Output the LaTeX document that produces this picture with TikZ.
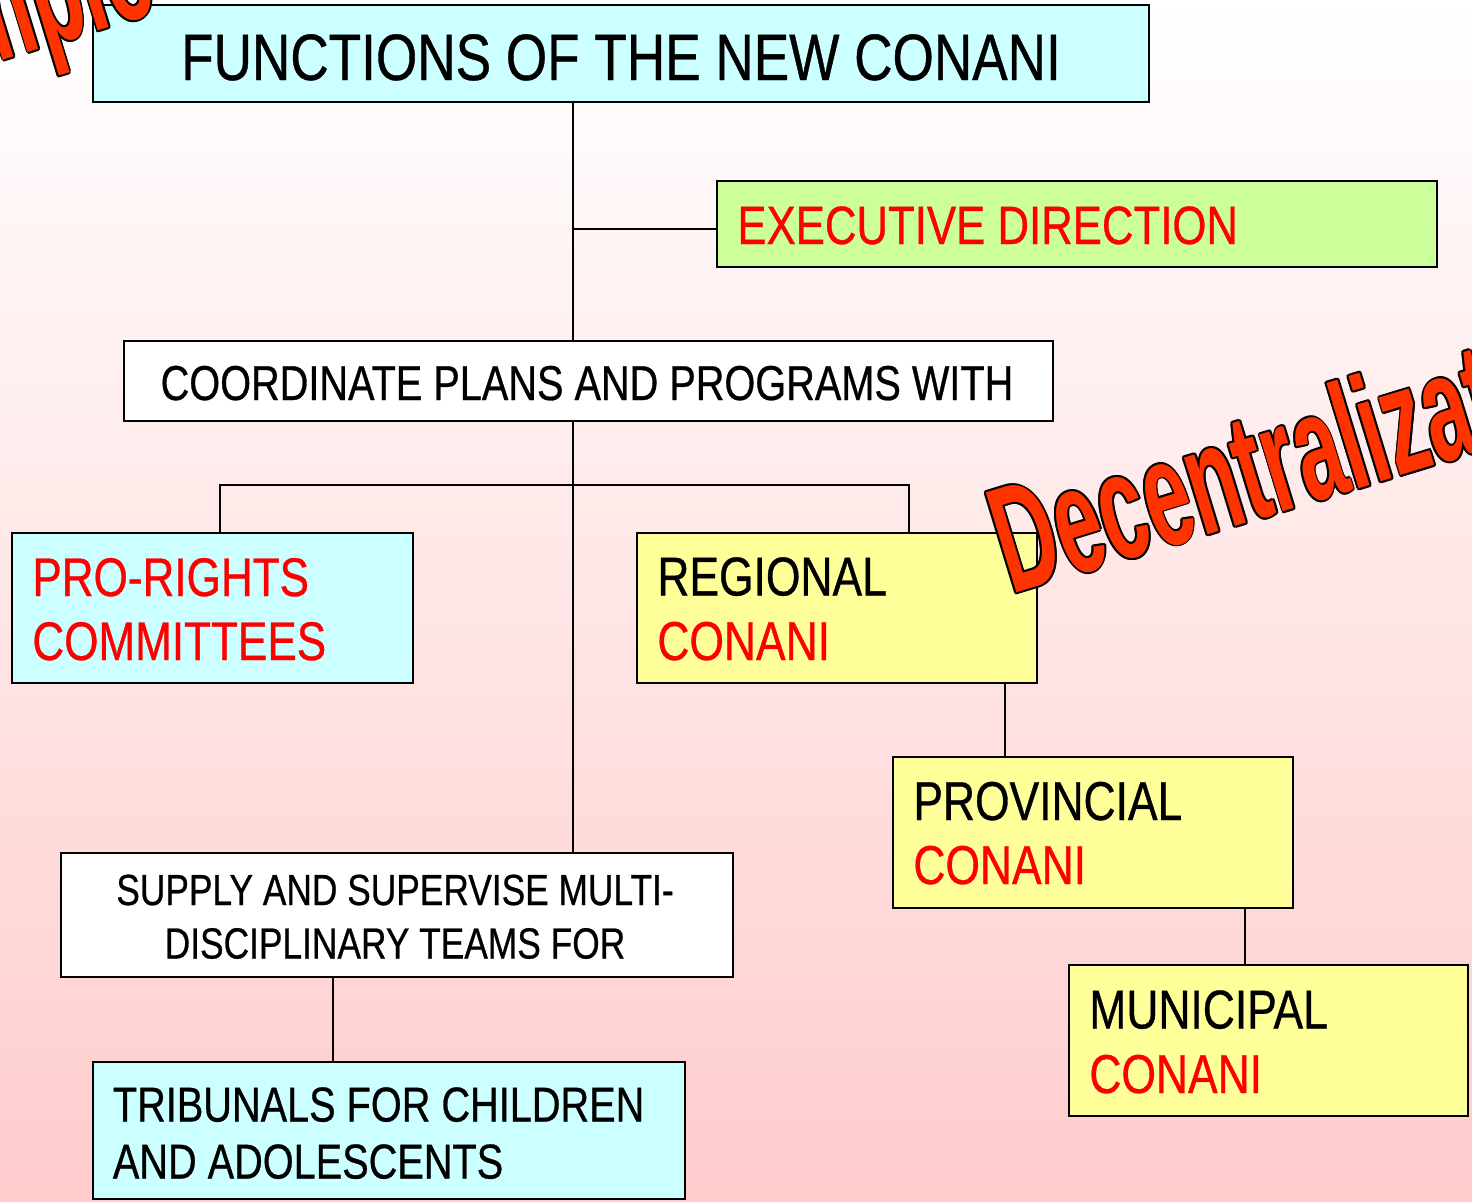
\documentclass[tikz,border=0pt]{standalone}
\usepackage{fontspec}
\setmainfont{Liberation Sans}[FakeStretch=0.81,FakeBold=0.6]
\newfontfamily\wafont{Liberation Sans}[FakeStretch=0.55]
\definecolor{cyanbox}{HTML}{CCFFFF}
\definecolor{greenbox}{HTML}{CCFF99}
\definecolor{yellowbox}{HTML}{FFFF99}
\definecolor{redtext}{HTML}{FF0000}
\definecolor{waorange}{HTML}{FF3300}
\definecolor{bgpink}{HTML}{FFCCCC}
\newcommand\myWordArt[5]{%
  \foreach \dx/\dy [count=\k] in {1/0,-1/0,0/1,0/-1,0.7/0.7,-0.7/0.7,0.7/-0.7,-0.7/-0.7}
    \node[wa, anchor=#3, text=black, xshift=\dx pt, yshift=\dy pt] (#1o\k) at (#2) {#4};
  \node[wa, anchor=#3, text=waorange] (#1) at (#2) {#4};
}
\begin{document}
\begin{tikzpicture}[x=0.5pt,y=-0.5pt,
  box/.style={draw=black, line width=1pt, rectangle, inner sep=0pt},
  conn/.style={draw=black, line width=1pt},
  lblw/.style={inner sep=0pt, anchor=base west},
  lblc/.style={inner sep=0pt, anchor=base},
  wa/.style={inner sep=0pt, rotate=17, font=\wafont\bfseries\fontsize{76}{80}\selectfont}]
\useasboundingbox (0,0) rectangle (1472,1201);
\clip (0,0) rectangle (1472,1201);
\shade[top color=white, bottom color=bgpink] (0,0) rectangle (1472,1201);

% boxes
\node[box, fill=cyanbox, minimum width=528pt, minimum height=48.5pt] (title) at (621,53.5) {};
\node[box, fill=greenbox, minimum width=360pt, minimum height=43pt] (exec) at (1077,224) {};
\node[box, fill=white, minimum width=464.5pt, minimum height=40pt] (coord) at (588.5,381) {};
\node[box, fill=cyanbox, minimum width=200.5pt, minimum height=75pt] (pro) at (212.5,608) {};
\node[box, fill=yellowbox, minimum width=200pt, minimum height=75pt] (regional) at (837,608) {};
\node[box, fill=yellowbox, minimum width=200pt, minimum height=75.5pt] (provincial) at (1093,832.5) {};
\node[box, fill=yellowbox, minimum width=199.5pt, minimum height=75.5pt] (municipal) at (1268.5,1040.5) {};
\node[box, fill=white, minimum width=336pt, minimum height=62pt] (supply) at (397,915) {};
\node[box, fill=cyanbox, minimum width=296pt, minimum height=68.5pt] (tribunals) at (389,1130.5) {};

% texts
\node[lblc, font=\fontsize{32.8}{38}\selectfont] (titletxt) at (621,80) {FUNCTIONS OF THE NEW CONANI};
\node[lblw, text=redtext, font=\fontsize{27}{32}\selectfont] (exectxt) at (737,244) {EXECUTIVE DIRECTION};
\node[lblc, font=\fontsize{24.5}{29}\selectfont] (coordtxt) at (587,400) {COORDINATE PLANS AND PROGRAMS WITH};
\node[lblw, text=redtext, font=\fontsize{27.2}{32}\selectfont] (protxt1) at (32,596) {PRO-RIGHTS};
\node[lblw, text=redtext, font=\fontsize{27.2}{32}\selectfont] (protxt2) at (32,660) {COMMITTEES};
\node[lblw, font=\fontsize{27.4}{31}\selectfont] (regtxt1) at (657,595.5) {REGIONAL};
\node[lblw, text=redtext, font=\fontsize{27.4}{31}\selectfont] (regtxt2) at (657,660) {CONANI};
\node[lblw, font=\fontsize{27.4}{31}\selectfont] (provtxt1) at (913,820) {PROVINCIAL};
\node[lblw, text=redtext, font=\fontsize{27.4}{31}\selectfont] (provtxt2) at (913,884) {CONANI};
\node[lblw, font=\fontsize{27.4}{31}\selectfont] (munitxt1) at (1089,1028.5) {MUNICIPAL};
\node[lblw, text=redtext, font=\fontsize{27.4}{31}\selectfont] (munitxt2) at (1089,1093) {CONANI};
\node[lblc, font=\fontsize{21.8}{24}\selectfont] (suptxt1) at (395,905) {SUPPLY AND SUPERVISE MULTI-};
\node[lblc, font=\fontsize{21.8}{24}\selectfont] (suptxt2) at (395,958.5) {DISCIPLINARY TEAMS FOR};
\node[lblw, font=\fontsize{24.5}{28}\selectfont] (tribtxt1) at (112.5,1121.5) {TRIBUNALS FOR CHILDREN};
\node[lblw, font=\fontsize{24.5}{28}\selectfont] (tribtxt2) at (112.5,1178.5) {AND ADOLESCENTS};

% connectors
\coordinate (tr) at (573,0);
\coordinate (eb) at (573,229);
\coordinate (pa) at (220,485);
\coordinate (ra) at (909,485);
\coordinate (rp) at (1005,0);
\coordinate (pm) at (1245,0);
\coordinate (st) at (333,0);
\draw[conn] (title.south -| tr) -- (coord.north -| tr);
\draw[conn] (eb) -- (eb -| exec.west);
\draw[conn] (coord.south -| tr) -- (supply.north -| tr);
\draw[conn] (pro.north -| pa) -- (pa) -- (ra) -- (regional.north -| ra);
\draw[conn] (regional.south -| rp) -- (provincial.north -| rp);
\draw[conn] (provincial.south -| pm) -- (municipal.north -| pm);
\draw[conn] (supply.south -| st) -- (tribunals.north -| st);

% word art
\coordinate (wa1pos) at (1011,595);
\coordinate (wa2pos) at (160,12);
\myWordArt{decent}{wa1pos}{base west}{Decentralization}{}
\myWordArt{example}{wa2pos}{base east}{Example}{}
\end{tikzpicture}
\end{document}
